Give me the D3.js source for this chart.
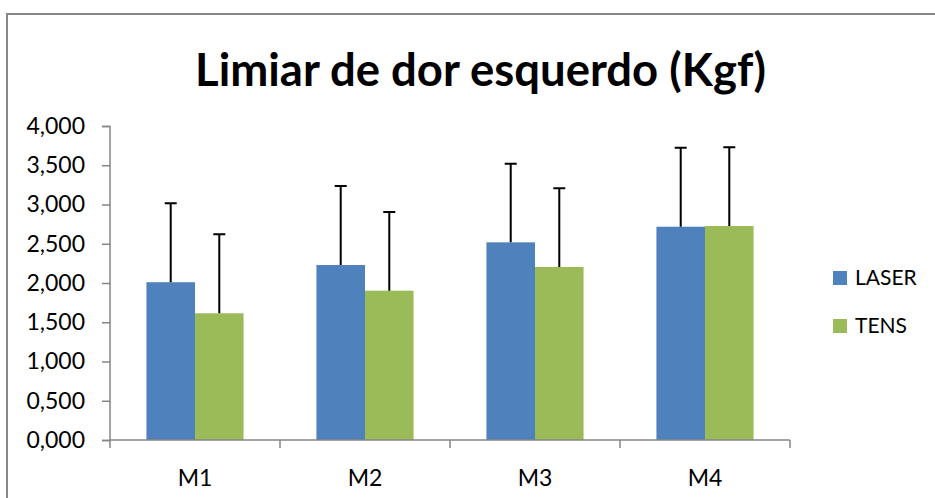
<!DOCTYPE html>
<html><head><meta charset="utf-8">
<script src="https://cdn.jsdelivr.net/npm/d3@7"></script>
<style>body{margin:0;background:#fff}svg{display:block}</style>
</head><body>
<svg id="c" width="935" height="498"></svg>
<script>
const categories = ["M1","M2","M3","M4"];
const seriesNames = ["LASER","TENS"];
const laser = [2.010, 2.229, 2.518, 2.717];
const tens = [1.614, 1.902, 2.204, 2.726];
const laserErr = [1.005, 1.007, 1.002, 1.007];
const tensErr = [1.006, 1.002, 1.002, 1.004];
const yTicks = [0, 0.5, 1, 1.5, 2, 2.5, 3, 3.5, 4];
const title = "Limiar de dor esquerdo (Kgf)";

const colors = ["#4F81BD", "#9BBB59"];
const FONT = "Lato, 'Open Sans', sans-serif";
const svg = d3.select("#c");

// outer border (top + left visible)
svg.append("path").attr("d","M7,499 L7,14 L936,14")
  .attr("fill","none").attr("stroke","#878787").attr("stroke-width",2);

const x0 = d3.scaleBand().domain(categories).range([110, 790]).paddingInner(0).paddingOuter(0);
const groupW = x0.bandwidth() * 2 / 3.5;
const x1 = d3.scaleBand().domain(seriesNames).range([0, groupW]);
const y = d3.scaleLinear().domain([0, 4]).range([440, 126]);

function fit(sel, targetW) {
  const w = sel.node().getComputedTextLength();
  const fs = parseFloat(sel.attr("font-size"));
  sel.attr("font-size", fs * targetW / w);
}

// title
const t = svg.append("text").attr("x", 480.5).attr("y", 86).attr("text-anchor","middle")
  .attr("font-family", FONT).attr("font-weight","bold").attr("font-size", 42)
  .attr("fill","#000").text(title);
fit(t, 571);

const data = categories.map((c,i)=>({cat:c, vals:[
  {s:"LASER", v:laser[i], e:laserErr[i]}, {s:"TENS", v:tens[i], e:tensErr[i]}]}));

const g = svg.append("g");
const groups = g.selectAll("g.grp").data(data).enter().append("g")
  .attr("transform", d => `translate(${x0(d.cat) + (x0.bandwidth()-groupW)/2},0)`);
groups.selectAll("rect").data(d=>d.vals).enter().append("rect")
  .attr("x", d=>x1(d.s)).attr("width", x1.bandwidth())
  .attr("y", d=>y(d.v)).attr("height", d=>y(0)-y(d.v))
  .attr("fill", (d,i)=>colors[i]);
// error bars
groups.selectAll("path.err").data(d=>d.vals).enter().append("path")
  .attr("d", d => {
    const cx = x1(d.s) + x1.bandwidth()/2;
    return `M${cx},${y(d.v)} V${y(d.v+d.e)} M${cx-6},${y(d.v+d.e)} H${cx+6}`;
  })
  .attr("stroke","#000").attr("stroke-width",2).attr("fill","none");

// y axis
const yAxis = d3.axisLeft(y).tickValues(yTicks).tickSize(8).tickPadding(17)
  .tickFormat(d => d3.format(",.3f")(d).replace(".", ","));
const ya = svg.append("g").attr("transform","translate(110,0)").call(yAxis);
ya.select(".domain").attr("stroke","#868686").attr("stroke-width",1.5).attr("d","M-8,126.5H0V440.5H-8");
ya.selectAll(".tick line").attr("stroke","#868686").attr("stroke-width",1.5);
ya.selectAll(".tick text").attr("font-family",FONT).attr("font-size",23).attr("fill","#000");

// x axis
const xAxis = d3.axisBottom(x0).tickSize(0).tickPadding(30);
const xa = svg.append("g").attr("transform","translate(0,440)").call(xAxis);
xa.select(".domain").attr("stroke","#868686").attr("stroke-width",1.5).attr("d","M110,0H790");
xa.selectAll(".tick text").attr("font-family",FONT).attr("font-size",23).attr("fill","#000");
const bounds = [110, 280, 450, 620, 790];
xa.selectAll("line.bt").data(categories.map(c=>x0(c)).concat([x0(categories[3])+x0.bandwidth()]))
  .enter().append("line").attr("class","bt")
  .attr("x1",d=>d).attr("x2",d=>d).attr("y1",0).attr("y2",8)
  .attr("stroke","#868686").attr("stroke-width",1.5);

// legend
const lg = svg.append("g");
const items = lg.selectAll("g").data(seriesNames).enter().append("g")
  .attr("transform",(d,i)=>`translate(833,${271 + i*48})`);
items.append("rect").attr("width",14).attr("height",14).attr("fill",(d,i)=>colors[i]);
items.append("text").attr("x",22).attr("y",14).attr("font-family",FONT).attr("font-size",21)
  .attr("fill","#000").text(d=>d);
</script>
</body></html>
